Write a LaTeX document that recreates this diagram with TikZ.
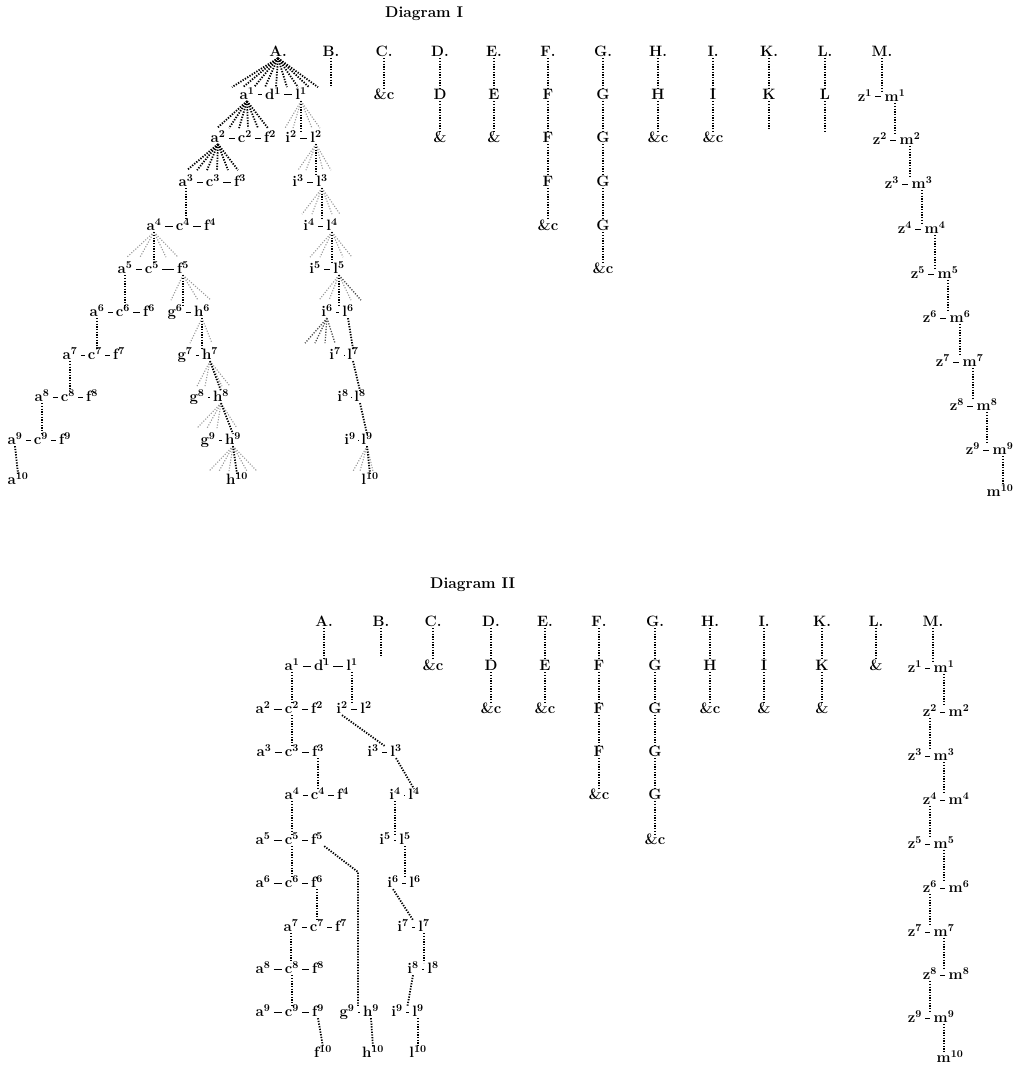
\documentclass[tikz,border=0pt]{standalone}
\usetikzlibrary{calc}
\newcommand\fanout[4]{%
  \foreach \dx [count=\n] in {#4} {\draw[#3] (#1.south) -- ++(\dx,#2) coordinate (#1f#3\n);}%
}
\newcommand\sx[2]{#1\textsuperscript{#2}}
\begin{document}
\begin{tikzpicture}[x=1pt,y=-1pt,
  lab/.style={font=\fontsize{15}{15}\selectfont\bfseries, inner sep=1.2pt, text height=9pt, text depth=0.5pt},
  ttl/.style={font=\fontsize{15.5}{16}\selectfont\bfseries, inner sep=0pt},
  dl/.style={line width=1.8pt, dash pattern=on 1.3pt off 1.4pt},
  fl/.style={line width=1.1pt, dash pattern=on 1.1pt off 1.6pt, black!40},
  ml/.style={line width=1.3pt, dash pattern=on 1.2pt off 1.5pt, black!70},
  hy/.style={line width=1pt, shorten >=2pt, shorten <=2pt}]
\useasboundingbox (0,0) rectangle (1025,1070);

% ================= Diagram I =================
\node[ttl, anchor=west] (t1) at (385,14) {Diagram I};
\foreach \n/\x in {A/278,B/331,C/384,D/440,E/494,F/548,G/603,H/658,I/713,K/769,L/825,M/882}
  \node[lab] (p\n) at (\x,52) {\n.};
% side columns
\node[lab] (pC2) at (384,95) {\&c};
\node[lab] (pD2) at (440,95) {D};  \node[lab] (pD3) at (440,138) {\&};
\node[lab] (pE2) at (494,95) {E};  \node[lab] (pE3) at (494,138) {\&};
\node[lab] (pF2) at (548,95) {F};  \node[lab] (pF3) at (548,138) {F};
\node[lab] (pF4) at (548,182) {F}; \node[lab] (pF5) at (548,226) {\&c};
\node[lab] (pG2) at (603,95) {G};  \node[lab] (pG3) at (603,138) {G};
\node[lab] (pG4) at (603,182) {G}; \node[lab] (pG5) at (603,226) {G};
\node[lab] (pG6) at (603,269) {\&c};
\node[lab] (pH2) at (658,95) {H};  \node[lab] (pH3) at (658,138) {\&c};
\node[lab] (pI2) at (713,95) {I};  \node[lab] (pI3) at (713,138) {\&c};
\node[lab] (pK2) at (769,95) {K};
\node[lab] (pL2) at (825,95) {L};
\coordinate (pBend) at (331,86);
\coordinate (pKend) at (769,130);
\coordinate (pLend) at (825,133);
\draw[dl] (pB.south) -- (pBend);
\draw[dl] (pC.south) -- (pC2.north);
\draw[dl] (pD.south) -- (pD2.north) (pD2.south) -- (pD3.north);
\draw[dl] (pE.south) -- (pE2.north) (pE2.south) -- (pE3.north);
\draw[dl] (pF.south) -- (pF2.north) (pF2.south) -- (pF3.north) (pF3.south) -- (pF4.north) (pF4.south) -- (pF5.north);
\draw[dl] (pG.south) -- (pG2.north) (pG2.south) -- (pG3.north) (pG3.south) -- (pG4.north) (pG4.south) -- (pG5.north) (pG5.south) -- (pG6.north);
\draw[dl] (pH.south) -- (pH2.north) (pH2.south) -- (pH3.north);
\draw[dl] (pI.south) -- (pI2.north) (pI2.south) -- (pI3.north);
\draw[dl] (pK.south) -- (pK2.north) (pK2.south) -- (pKend);
\draw[dl] (pL.south) -- (pL2.north) (pL2.south) -- (pLend);
% M column
\foreach \k/\x/\y in {1/865/97,2/880/140,3/892/184,4/905/229,5/918/274,6/930/318,7/943/362,8/957/406,9/973/450} {
  \node[lab] (pz\k) at (\x,\y) {\sx{z}{\k}};
  \node[lab] (pm\k) at (\x+30,\y) {\sx{m}{\k}};
  \draw[hy] (pz\k) -- (pm\k);
}
\node[lab] (pm10) at (1000,492) {\sx{m}{10}};
\draw[dl] (pM.south) -- (pM.south |- pz1.north);
\foreach \k/\j in {1/2,2/3,3/4,4/5,5/6,6/7,7/8,8/9}
  \draw[dl] (pm\k.south) -- (pm\k.south |- pz\j.north);
\draw[dl] (pm9.south) -- (pm9.south |- pm10.north);
% left tree
\node[lab] (pa1) at (247,95) {\sx{a}{1}};
\node[lab] (pd1) at (273,95) {\sx{d}{1}};
\node[lab] (pl1) at (301,95) {\sx{l}{1}};
\draw[hy] (pa1) -- (pd1); \draw[hy] (pd1) -- (pl1);
\foreach \r/\y/\xa/\xc/\xf in {2/138/218/245/270,3/182/186/213/240,4/226/154/183/210,5/269/125/152/183,6/312/97/123/149,7/355/70/95/119,8/397/42/68/92,9/440/15/41/65} {
  \node[lab] (pa\r) at (\xa,\y) {\sx{a}{\r}};
  \node[lab] (pc\r) at (\xc,\y) {\sx{c}{\r}};
  \node[lab] (pf\r) at (\xf,\y) {\sx{f}{\r}};
  \draw[hy] (pa\r) -- (pc\r); \draw[hy] (pc\r) -- (pf\r);
}
\foreach \r/\y/\xi/\xl in {2/138/291/316,3/182/298/322,4/226/309/332,5/269/315/339,6/312/327/348,7/355/335/353,8/397/343/360,9/440/350/367} {
  \node[lab] (pi\r) at (\xi,\y) {\sx{i}{\r}};
  \node[lab] (pl\r) at (\xl,\y) {\sx{l}{\r}};
  \draw[hy] (pi\r) -- (pl\r);
}
\foreach \r/\y/\xg/\xh in {6/312/175/202,7/355/185/210,8/397/197/221,9/440/208/233} {
  \node[lab] (pg\r) at (\xg,\y) {\sx{g}{\r}};
  \node[lab] (ph\r) at (\xh,\y) {\sx{h}{\r}};
  \draw[hy] (pg\r) -- (ph\r);
}
\node[lab] (pa10) at (18,480) {\sx{a}{10}};
\node[lab] (ph10) at (237,480) {\sx{h}{10}};
\node[lab] (pl10) at (370,480) {\sx{l}{10}};
% fans and descents
\fanout{pA}{29}{dl}{-46,-35,-24,-13,-2,9,20,31,40}
\fanout{pa1}{27}{dl}{-30,-18,-8,1,11,21}
\fanout{pl1}{27}{fl}{-16,-8,11,19}
\draw[dl] (pl1.south) -- (pl1.south |- pi2.north);
\fanout{pa2}{26}{dl}{-31,-21,-11,-1,10,20}
\fanout{pl2}{26}{fl}{-18,-10,7,15}
\draw[dl] (pl2.south) -- (pl2.south |- pi3.north);
\draw[dl] (pa3.south) -- (pa3.south |- pc4.north);
\fanout{pl3}{26}{fl}{-20,-10,10,18}
\draw[dl] (pl3.south) -- (pl3.south |- pi4.north);
\fanout{pa4}{25}{fl}{-27,-14,12,24}
\draw[dl] (pa4.south) -- (pa4.south |- pc5.north);
\fanout{pl4}{25}{fl}{-22,-12,11,20}
\draw[dl] (pl4.south) -- (pl4.south |- pi5.north);
\draw[dl] (pa5.south) -- (pa5.south |- pc6.north);
\fanout{pf5}{25}{fl}{-12,15,28}
\draw[dl] (pf5.south) -- (pf5.south |- pg6.north);
\fanout{pl5}{25}{fl}{-20,-10,12}
\fanout{pl5}{25}{ml}{22}
\draw[dl] (pl5.south) -- (pl5.south |- pi6.north);
\draw[dl] (pa6.south) -- (pa6.south |- pc7.north);
\fanout{ph6}{25}{fl}{-12,10}
\draw[dl] (ph6.south) -- (ph6.south |- pg7.north);
\fanout{pi6}{25}{ml}{-22,-12,-2,8}
\draw[dl] (pl6.south) -- (pl7.north);
\draw[dl] (pa7.south) -- (pa7.south |- pc8.north);
\fanout{ph7}{25}{fl}{-13,-5,12,20}
\draw[dl] (ph7.south) -- (ph8.north);
\draw[dl] (pl7.south) -- (pl8.north);
\draw[dl] (pa8.south) -- (pa8.south |- pc9.north);
\fanout{ph8}{25}{fl}{-24,-14,-4,16}
\draw[dl] (ph8.south) -- (ph9.north);
\draw[dl] (pl8.south) -- (pl9.north);
\draw[dl] (pa9.south) -- (pa10.north);
\fanout{ph9}{25}{fl}{-24,-14,-4,14,24}
\draw[dl] (ph9.south) -- (ph10.north);
\fanout{pl9}{25}{fl}{-14,-7,6}
\draw[dl] (pl9.south) -- (pl10.north);

% ================= Diagram II =================
\node[ttl, anchor=west] (t2) at (430,585) {Diagram II};
\foreach \n/\x in {A/324,B/381,C/433,D/491,E/545,F/599,G/655,H/710,I/764,K/822,L/876,M/933}
  \node[lab] (q\n) at (\x,622) {\n.};
\node[lab] (qC2) at (433,666) {\&c};
\node[lab] (qD2) at (491,666) {D};  \node[lab] (qD3) at (491,709) {\&c};
\node[lab] (qE2) at (545,666) {E};  \node[lab] (qE3) at (545,709) {\&c};
\node[lab] (qF2) at (599,666) {F};  \node[lab] (qF3) at (599,709) {F};
\node[lab] (qF4) at (599,752) {F};  \node[lab] (qF5) at (599,795) {\&c};
\node[lab] (qG2) at (655,666) {G};  \node[lab] (qG3) at (655,709) {G};
\node[lab] (qG4) at (655,752) {G};  \node[lab] (qG5) at (655,795) {G};
\node[lab] (qG6) at (655,840) {\&c};
\node[lab] (qH2) at (710,666) {H};  \node[lab] (qH3) at (710,709) {\&c};
\node[lab] (qI2) at (764,666) {I};  \node[lab] (qI3) at (764,709) {\&};
\node[lab] (qK2) at (822,666) {K};  \node[lab] (qK3) at (822,709) {\&};
\node[lab] (qL2) at (876,666) {\&};
\coordinate (qBend) at (381,657);
\draw[dl] (qB.south) -- (qBend);
\draw[dl] (qC.south) -- (qC2.north);
\draw[dl] (qD.south) -- (qD2.north) (qD2.south) -- (qD3.north);
\draw[dl] (qE.south) -- (qE2.north) (qE2.south) -- (qE3.north);
\draw[dl] (qF.south) -- (qF2.north) (qF2.south) -- (qF3.north) (qF3.south) -- (qF4.north) (qF4.south) -- (qF5.north);
\draw[dl] (qG.south) -- (qG2.north) (qG2.south) -- (qG3.north) (qG3.south) -- (qG4.north) (qG4.south) -- (qG5.north) (qG5.south) -- (qG6.north);
\draw[dl] (qH.south) -- (qH2.north) (qH2.south) -- (qH3.north);
\draw[dl] (qI.south) -- (qI2.north) (qI2.south) -- (qI3.north);
\draw[dl] (qK.south) -- (qK2.north) (qK2.south) -- (qK3.north);
\draw[dl] (qL.south) -- (qL2.north);
% M column
\foreach \k/\x/\y in {1/915/668,2/930/712,3/915/756,4/930/800,5/915/844,6/930/888,7/915/932,8/930/975,9/915/1018} {
  \node[lab] (qz\k) at (\x,\y) {\sx{z}{\k}};
  \node[lab] (qm\k) at (\x+29,\y) {\sx{m}{\k}};
  \draw[hy] (qz\k) -- (qm\k);
}
\node[lab] (qm10) at (950,1058) {\sx{m}{10}};
\draw[dl] (qM.south) -- (qM.south |- qz1.north);
\foreach \k/\j in {1/2,3/4,5/6,7/8}
  \draw[dl] (qm\k.south) -- (qm\k.south |- qz\j.north);
\foreach \k/\j in {2/3,4/5,6/7,8/9}
  \draw[dl] (qz\k.south) -- (qz\k.south |- qz\j.north);
\draw[dl] (qm9.south) -- (qm9.south |- qm10.north);
% left tree
\node[lab] (qa1) at (292,666) {\sx{a}{1}};
\node[lab] (qd1) at (322,666) {\sx{d}{1}};
\node[lab] (ql1) at (352,666) {\sx{l}{1}};
\draw[hy] (qa1) -- (qd1); \draw[hy] (qd1) -- (ql1);
\foreach \r/\y/\xa/\xc/\xf in {2/709/263/292/317,3/752/264/292/318,4/795/292/318/343,5/840/263/292/317,6/883/263/292/317,7/927/291/317/341,8/969/263/292/318,9/1012/263/292/318} {
  \node[lab] (qa\r) at (\xa,\y) {\sx{a}{\r}};
  \node[lab] (qc\r) at (\xc,\y) {\sx{c}{\r}};
  \node[lab] (qf\r) at (\xf,\y) {\sx{f}{\r}};
  \draw[hy] (qa\r) -- (qc\r); \draw[hy] (qc\r) -- (qf\r);
}
\foreach \r/\y/\xi/\xl in {2/709/342/366,3/752/373/396,4/795/395/414,5/840/385/405,6/883/393/415,7/927/403/424,8/969/413/433,9/1012/397/418} {
  \node[lab] (qi\r) at (\xi,\y) {\sx{i}{\r}};
  \node[lab] (ql\r) at (\xl,\y) {\sx{l}{\r}};
  \draw[hy] (qi\r) -- (ql\r);
}
\node[lab] (qg9) at (347,1012) {\sx{g}{9}};
\node[lab] (qh9) at (371,1012) {\sx{h}{9}};
\draw[hy] (qg9) -- (qh9);
\node[lab] (qf10) at (323,1053) {\sx{f}{10}};
\node[lab] (qh10) at (373,1053) {\sx{h}{10}};
\node[lab] (ql10) at (418,1053) {\sx{l}{10}};
% descents
\draw[dl] (qA.south) -- (qA.south |- qd1.north);
\draw[dl] (qa1.south) -- (qa1.south |- qc2.north);
\draw[dl] (ql1.south) -- (ql1.south |- qi2.north);
\draw[dl] (qc2.south) -- (qc2.south |- qc3.north);
\draw[dl] (qi2.south) -- ($(qi3.north)!.5!(ql3.north)$);
\draw[dl] (qf3.south) -- (qf3.south |- qc4.north);
\draw[dl] (ql3.south) -- (ql4.north);
\draw[dl] (qa4.south) -- (qa4.south |- qc5.north);
\draw[dl] (qi4.south) -- (qi4.south |- qi5.north);
\draw[dl] (qc5.south) -- (qc5.south |- qc6.north);
\coordinate (qkink) at (358,872);
\draw[dl] (qf5.south east) -- (qkink) -- (qkink |- qg9.north);
\draw[dl] (ql5.south) -- (ql5.south |- ql6.north);
\draw[dl] (qi6.south) -- ($(qi7.north)!.5!(ql7.north)$);
\draw[dl] (qf6.south) -- (qf6.south |- qc7.north);
\draw[dl] (ql7.south) -- (ql7.south |- ql8.north);
\draw[dl] (qa7.south) -- (qa7.south |- qc8.north);
\draw[dl] (qi8.south) -- ($(qi9.north)!.5!(ql9.north)$);
\draw[dl] (qc8.south) -- (qc8.south |- qc9.north);
\draw[dl] (qf9.south) -- (qf10.north);
\draw[dl] (qh9.south) -- (qh10.north);
\draw[dl] (ql9.south) -- (ql10.north);
\end{tikzpicture}
\end{document}
